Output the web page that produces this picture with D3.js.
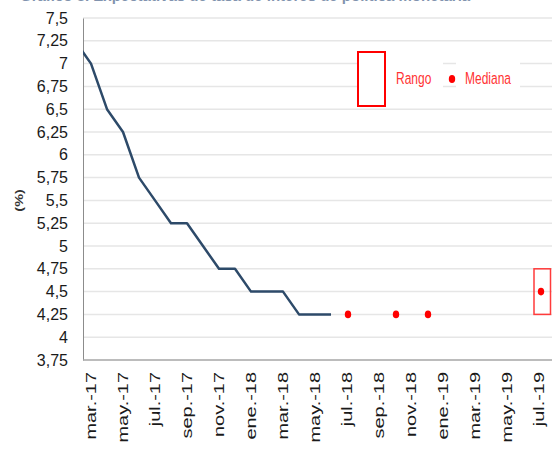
<!DOCTYPE html>
<html>
<head>
<meta charset="utf-8">
<script src="https://cdn.jsdelivr.net/npm/d3@7"></script>
<style>
body { margin: 0; background: #fff; }
svg { display: block; }
</style>
</head>
<body>
<div id="chart"></div>
<script>
// months on the category axis (feb.-17 only feeds the clipped start of the line)
var months = ["feb.-17", "mar.-17", "abr.-17", "may.-17", "jun.-17", "jul.-17", "ago.-17", "sep.-17",
    "oct.-17", "nov.-17", "dic.-17", "ene.-18", "feb.-18", "mar.-18", "abr.-18", "may.-18", "jun.-18",
    "jul.-18", "ago.-18", "sep.-18", "oct.-18", "nov.-18", "dic.-18", "ene.-19", "feb.-19", "mar.-19",
    "abr.-19", "may.-19", "jun.-19", "jul.-19", "ago.-19"];
var tickMonths = ["mar.-17", "may.-17", "jul.-17", "sep.-17", "nov.-17", "ene.-18", "mar.-18", "may.-18",
    "jul.-18", "sep.-18", "nov.-18", "ene.-19", "mar.-19", "may.-19", "jul.-19"];

// observed policy rate
var rateMonths = ["feb.-17", "mar.-17", "abr.-17", "may.-17", "jun.-17", "jul.-17", "ago.-17", "sep.-17",
    "oct.-17", "nov.-17", "dic.-17", "ene.-18", "feb.-18", "mar.-18", "abr.-18", "may.-18", "jun.-18"];
var rateValues = [7.25, 7, 6.5, 6.25, 5.75, 5.5, 5.25, 5.25, 5, 4.75, 4.75, 4.5, 4.5, 4.5, 4.25, 4.25, 4.25];

// survey medians and range
var medianMonths = ["jul.-18", "oct.-18", "dic.-18", "jul.-19"];
var medianValues = [4.25, 4.25, 4.25, 4.5];
var rangeMonths = ["jul.-19"];
var rangeLow = [4.25];
var rangeHigh = [4.75];

var yTicks = [3.75, 4, 4.25, 4.5, 4.75, 5, 5.25, 5.5, 5.75, 6, 6.25, 6.5, 6.75, 7, 7.25, 7.5];

var width = 552, height = 450;
var margin = {top: 18, left: 83, bottom: 90};
var bw = 16;

var svg = d3.select("#chart").append("svg")
    .attr("width", width)
    .attr("height", height);

var es = d3.formatLocale({decimal: ",", thousands: ".", grouping: [3], currency: ["", ""]});
var fmt = es.format("~g");

var x = d3.scaleBand()
    .domain(months)
    .range([margin.left - bw, margin.left - bw + bw * months.length]);
var y = d3.scaleLinear()
    .domain([3.75, 7.5])
    .range([height - margin.bottom, margin.top]);

function cx(m) { return x(m) + x.bandwidth() / 2; }

// title, cut off by the top edge as in the source image
svg.append("text")
    .attr("x", 20)
    .attr("y", 0.5)
    .style("font-family", "Liberation Sans, Arial, sans-serif")
    .style("font-size", "15px")
    .style("font-weight", "bold")
    .style("fill", "#8193ae")
    .text("Gráfico 3. Expectativas de tasa de interés de política monetaria");

// gridlines
svg.append("g")
    .selectAll("line")
    .data(yTicks.slice(1))
    .join("line")
    .attr("x1", margin.left)
    .attr("x2", width)
    .attr("y1", d => y(d))
    .attr("y2", d => y(d))
    .attr("stroke", "#e6e6e6")
    .attr("stroke-width", 1.5);

// y axis
var yAxis = svg.append("g")
    .attr("transform", "translate(" + margin.left + ",0)")
    .call(d3.axisLeft(y).tickValues(yTicks).tickFormat(fmt).tickSize(0).tickPadding(15));
yAxis.select(".domain").attr("stroke", "#8c8c8c");
yAxis.selectAll("text")
    .style("font-family", "Liberation Sans, Arial, sans-serif")
    .style("font-size", "16px")
    .style("fill", "#1a1a1a");

// x axis
var xAxis = svg.append("g")
    .attr("transform", "translate(0," + (height - margin.bottom) + ")")
    .call(d3.axisBottom(x).tickValues(tickMonths).tickSize(0).tickPadding(0));
xAxis.select(".domain").remove();
svg.append("line")
    .attr("x1", margin.left)
    .attr("x2", width)
    .attr("y1", y(3.75))
    .attr("y2", y(3.75))
    .attr("stroke", "#a6a6a6")
    .attr("stroke-width", 1.5);
xAxis.selectAll("text")
    .attr("text-anchor", "end")
    .attr("dy", "0.35em")
    .attr("y", 0)
    .attr("transform", "translate(0,12) rotate(-90) scale(1.33,1)")
    .style("font-family", "Liberation Sans, Arial, sans-serif")
    .style("font-size", "15px")
    .style("fill", "#1a1a1a");

// y label
svg.append("text")
    .attr("transform", "translate(19," + y(5.5) + ") rotate(-90) scale(1.45,1)")
    .attr("text-anchor", "middle")
    .attr("dy", "0.35em")
    .style("font-family", "Liberation Sans, Arial, sans-serif")
    .style("font-size", "10px")
    .style("font-weight", "bold")
    .style("fill", "#333")
    .text("(%)");

// rate line, clipped at the plot's left edge
svg.append("clipPath")
    .attr("id", "plotclip")
    .append("rect")
    .attr("x", margin.left)
    .attr("y", 0)
    .attr("width", width - margin.left)
    .attr("height", height);

var rate = rateMonths.map((m, i) => ({m: m, v: rateValues[i]}));
var line = d3.line()
    .x(d => cx(d.m))
    .y(d => y(d.v));

svg.append("path")
    .datum(rate)
    .attr("clip-path", "url(#plotclip)")
    .attr("fill", "none")
    .attr("stroke", "#2d4a69")
    .attr("stroke-width", 2.5)
    .attr("stroke-linejoin", "round")
    .attr("d", line);

// range box
svg.append("g")
    .selectAll("rect")
    .data(rangeMonths)
    .join("rect")
    .attr("x", d => cx(d) - 5)
    .attr("y", (d, i) => y(rangeHigh[i]))
    .attr("width", 16.5)
    .attr("height", (d, i) => y(rangeLow[i]) - y(rangeHigh[i]))
    .attr("fill", "none")
    .attr("stroke", "#ff3b3b")
    .attr("stroke-width", 1.5);

// medians
svg.append("g")
    .selectAll("ellipse")
    .data(medianMonths)
    .join("ellipse")
    .attr("cx", (d, i) => cx(d) + (i === medianMonths.length - 1 ? 2 : 1))
    .attr("cy", (d, i) => y(medianValues[i]))
    .attr("rx", 3.2)
    .attr("ry", 3.8)
    .attr("fill", "#ff0000");

// legend
var legend = svg.append("g");
legend.append("rect")
    .attr("x", 386).attr("y", 50).attr("width", 57).attr("height", 55)
    .attr("fill", "#fff");
legend.append("rect")
    .attr("x", 456).attr("y", 50).attr("width", 64).attr("height", 55)
    .attr("fill", "#fff");
legend.append("rect")
    .attr("x", 358).attr("y", 52).attr("width", 27).attr("height", 54)
    .attr("fill", "#fff")
    .attr("stroke", "#ff0000")
    .attr("stroke-width", 2);
legend.append("ellipse")
    .attr("cx", 452).attr("cy", 79).attr("rx", 3.2).attr("ry", 4)
    .attr("fill", "#ff0000");
legend.append("text")
    .attr("transform", "translate(396,84) scale(1,1.45)")
    .style("font-family", "Liberation Sans Narrow, Arial Narrow, Liberation Sans, sans-serif")
    .style("font-size", "12px")
    .style("fill", "#ff3333")
    .text("Rango");
legend.append("text")
    .attr("transform", "translate(465,84) scale(1,1.45)")
    .style("font-family", "Liberation Sans Narrow, Arial Narrow, Liberation Sans, sans-serif")
    .style("font-size", "12px")
    .style("fill", "#ff3333")
    .text("Mediana");
</script>
</body>
</html>
